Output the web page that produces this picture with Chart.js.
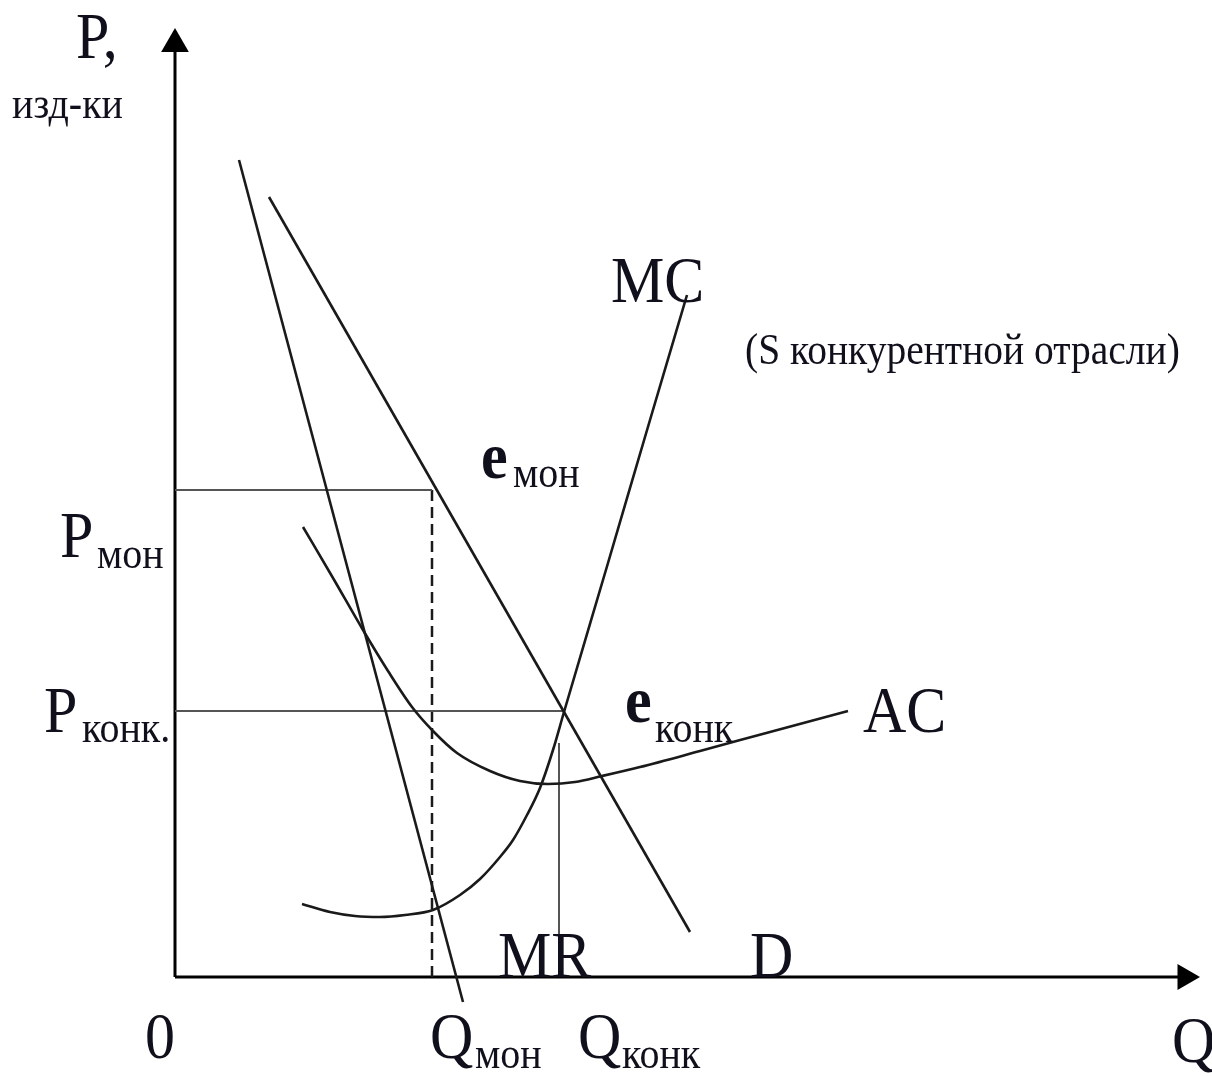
<!DOCTYPE html>
<html>
<head>
<meta charset="utf-8">
<script src="https://cdn.jsdelivr.net/npm/chart.js@4.4.0/dist/chart.umd.min.js"></script>
<style>
html,body{margin:0;padding:0;background:#fff;}
#wrap{width:1212px;height:1076px;}
</style>
</head>
<body>
<div id="wrap"><canvas id="c" width="1212" height="1076"></canvas></div>
<script>
// ---- data (Q = quantity, P = price / costs) ----
const mrQ = [6.4, 28.8];
const mrP = [81.7, -2.5];

const dQ = [9.4, 51.5];
const dP = [78.0, 4.5];

const mcQ = [12.7, 15.5, 18.0, 20.5, 23.0, 25.8, 28.5, 30.5, 32.5, 33.8, 35.2, 36.5, 37.8, 38.9, 43.3, 47.5, 51.2];
const mcP = [7.3, 6.5, 6.1, 6.0, 6.2, 6.7, 8.2, 9.8, 12.0, 13.7, 16.2, 18.9, 22.7, 26.5, 41.4, 55.7, 68.2];

const acQ = [12.8, 15.8, 18.8, 21.3, 23.7, 25.8, 28.2, 31.5, 34.5, 37.3, 40.0, 42.7, 46.5, 52.5, 59.5, 67.3];
const acP = [45.0, 39.9, 34.7, 30.6, 27.0, 24.6, 22.4, 20.6, 19.6, 19.3, 19.5, 20.1, 21.0, 22.6, 24.5, 26.6];

const qMon = 25.7, pMon = 48.7;      // monopoly equilibrium
const qKonk = 38.9, pKonk = 26.6;    // competitive equilibrium
const qKonkLine = 38.4, qKonkTop = 23.4;
const axisQMax = 101.0, axisPMax = 93.3;

// ---- text labels (text, anchor in data units) ----
const labelTexts = ["P,", "изд-ки", "MC", "(S конкурентной отрасли)", "e", "мон", "P", "мон", "P", "конк.", "e", "конк", "AC", "MR", "D", "0", "Q", "мон", "Q", "конк", "Q"];
const labelQ = [-9.9, -16.3, 43.6, 57.0, 30.6, 33.8, -11.5, -7.8, -13.1, -9.3, 45.0, 48.0, 68.8, 32.3, 57.5, -3.0, 25.5, 30.0, 40.3, 44.7, 99.7];
const labelP = [91.9, 85.9, 67.5, 61.3, 49.9, 49.0, 42.0, 40.9, 24.5, 23.5, 25.5, 23.5, 24.5, 0.0, 0.0, -8.1, -8.1, -9.1, -8.1, -9.1, -8.5];
const labelKind = ["big", "axisSub", "big", "note", "e", "sub", "big", "sub", "big", "sub", "e", "sub", "big", "big", "big", "big", "big", "sub", "big", "sub", "big"];

const pts = (xs, ys) => xs.map((x, i) => ({x, y: ys[i]}));

const fontFor = {
  big: '60px "Liberation Serif"',
  axisSub: '40px "Liberation Serif"',
  note: '39.5px "Liberation Serif"',
  e: 'bold 60px "Liberation Serif"',
  sub: '40px "Liberation Serif"'
};

const textPlugin = {
  id: 'texts',
  afterDatasetsDraw(chart) {
    const {ctx, scales: {x, y}} = chart;
    ctx.save();
    ctx.fillStyle = '#10101c';
    ctx.textBaseline = 'alphabetic';
    ctx.textAlign = 'left';
    labelTexts.forEach((t, i) => {
      const px = x.getPixelForValue(labelQ[i]);
      const py = y.getPixelForValue(labelP[i]);
      ctx.save();
      ctx.translate(px, py);
      ctx.scale(1, 1.1);
      ctx.font = fontFor[labelKind[i]];
      ctx.fillText(t, 0, 0);
      ctx.restore();
    });
    ctx.restore();
  }
};

const curve = '#1a1a1a';
const base = {showLine: true, pointRadius: 0, borderColor: curve, borderWidth: 2.6, clip: false, fill: false};

new Chart(document.getElementById('c'), {
  type: 'scatter',
  data: {
    datasets: [
      Object.assign({}, base, {label: 'MR', data: pts(mrQ, mrP), tension: 0}),
      Object.assign({}, base, {label: 'D', data: pts(dQ, dP), tension: 0}),
      Object.assign({}, base, {label: 'MC', data: pts(mcQ, mcP), cubicInterpolationMode: 'monotone'}),
      Object.assign({}, base, {label: 'AC', data: pts(acQ, acP), cubicInterpolationMode: 'monotone'}),
      Object.assign({}, base, {label: 'Pмон', data: pts([0, qMon], [pMon, pMon]), borderColor: '#555', borderWidth: 2}),
      Object.assign({}, base, {label: 'Pконк', data: pts([0, qKonk], [pKonk, pKonk]), borderColor: '#555', borderWidth: 2}),
      Object.assign({}, base, {label: 'Qмон', data: pts([qMon, qMon], [pMon, 0]), borderDash: [11, 6], borderWidth: 2.5}),
      Object.assign({}, base, {label: 'Qконк', data: pts([qKonkLine, qKonkLine], [qKonkTop, 0]), borderColor: '#555', borderWidth: 2}),
      Object.assign({}, base, {label: 'P axis', data: pts([0, 0], [0, axisPMax]), borderColor: '#000', borderWidth: 3,
        pointRadius: [0, 16], pointStyle: 'triangle', pointRotation: 0, pointBackgroundColor: '#000', pointBorderColor: '#000', pointBorderWidth: 0}),
      Object.assign({}, base, {label: 'Q axis', data: pts([0, axisQMax], [0, 0]), borderColor: '#000', borderWidth: 3,
        pointRadius: [0, 15], pointStyle: 'triangle', pointRotation: 90, pointBackgroundColor: '#000', pointBorderColor: '#000', pointBorderWidth: 0})
    ]
  },
  options: {
    responsive: false,
    animation: false,
    events: [],
    layout: {autoPadding: false, padding: {left: 175, right: 0, top: 0, bottom: 99}},
    scales: {
      x: {type: 'linear', min: 0, max: 103.7, display: false},
      y: {type: 'linear', min: 0, max: 97.7, display: false}
    },
    plugins: {legend: {display: false}, tooltip: {enabled: false}}
  },
  plugins: [textPlugin]
});
</script>
</body>
</html>
